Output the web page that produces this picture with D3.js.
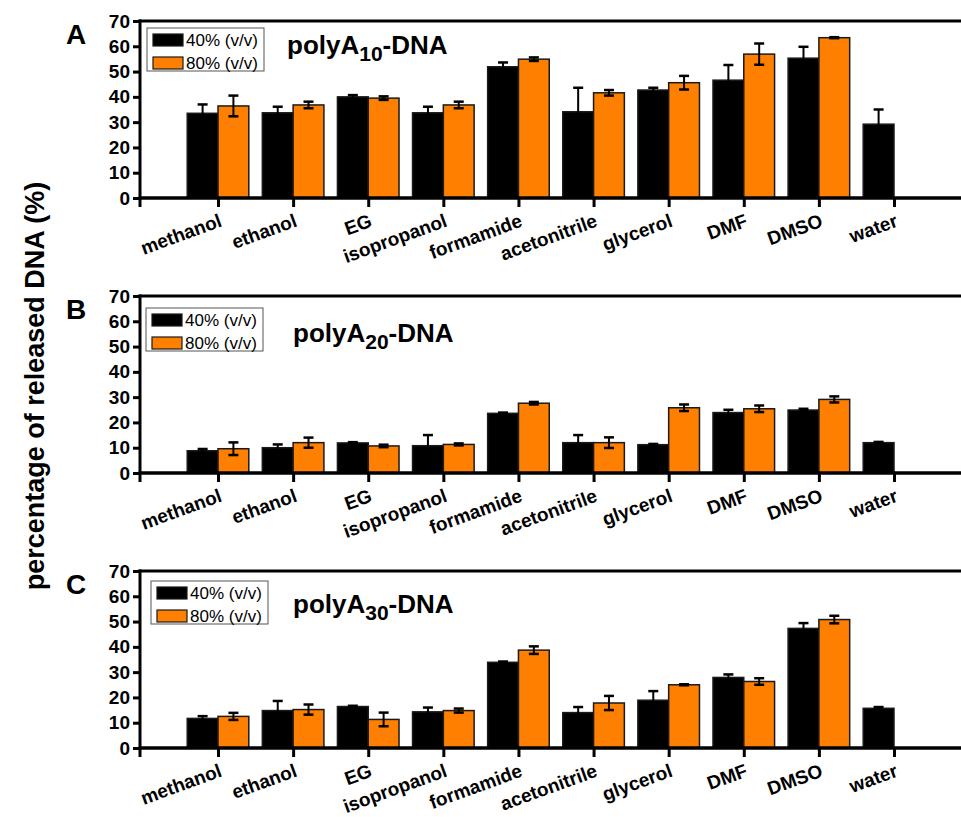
<!DOCTYPE html>
<html><head><meta charset="utf-8">
<script src="https://cdn.jsdelivr.net/npm/d3@7"></script>
<style>html,body{margin:0;padding:0;background:#fff;}svg{display:block;font-family:"Liberation Sans",Arial,sans-serif;}</style>
</head><body>
<svg id="chart" width="961" height="817"></svg>
<script>
const categories = ["methanol","ethanol","EG","isopropanol","formamide","acetonitrile","glycerol","DMF","DMSO","water"];
const seriesNames = ["40% (v/v)","80% (v/v)"];
const yTicks = [0,10,20,30,40,50,60,70];

const A40 = [33.5,33.7,40.0,33.7,51.9,34.1,42.7,46.6,55.3,29.2];
const A40err = [3.5,2.4,0.7,2.4,1.7,9.5,0.9,6.0,4.5,5.8];
const A80 = [36.4,36.8,39.5,36.8,54.9,41.6,45.6,56.9,63.4,null];
const A80err = [4.1,1.3,0.7,1.3,0.7,1.1,2.7,4.2,0.2,null];

const B40 = [8.8,10.0,11.9,10.8,23.6,12.0,11.2,23.9,24.9,12.0];
const B40err = [0.7,1.3,0.3,4.2,0.3,3.0,0.3,1.1,0.5,0.3];
const B80 = [9.6,12.0,10.7,11.3,27.6,12.0,25.8,25.4,29.1,null];
const B80err = [2.5,2.0,0.5,0.4,0.5,2.1,1.3,1.3,1.2,null];

const C40 = [11.7,14.8,16.4,14.3,33.9,14.0,18.9,27.9,47.3,15.7];
const C40err = [0.9,3.8,0.3,1.7,0.3,2.2,3.6,1.2,2.1,0.5];
const C80 = [12.5,15.2,11.3,14.8,38.7,17.8,25.0,26.3,50.8,null];
const C80err = [1.4,2.0,2.7,0.8,1.5,2.8,0.2,1.3,1.5,null];

const panelLetters = ["A","B","C"];
const panelSubs = ["10","20","30"];

const panels = [
  {letter:panelLetters[0], sub:panelSubs[0], s40:A40, e40:A40err, s80:A80, e80:A80err, top:21, titleX:287, titleDy:33, legDy:7, legX:147},
  {letter:panelLetters[1], sub:panelSubs[1], s40:B40, e40:B40err, s80:B80, e80:B80err, top:296, titleX:293, titleDy:46, legDy:12, legX:146},
  {letter:panelLetters[2], sub:panelSubs[2], s40:C40, e40:C40err, s80:C80, e80:C80err, top:571, titleX:293, titleDy:42, legDy:10, legX:151}
];

const colors = ["#000000","#ff8000"];
const svg = d3.select("#chart");
const axisX = 140, plotH = 177, rightEdge = 961;
const FONT = "'Liberation Sans',Arial,sans-serif";
const labelAngle = -20;

const x = d3.scaleLinear().domain([0, categories.length + 1]).range([142.9, 142.9 + 75.11*(categories.length+1)]);
const step = x(1) - x(0);
const xSub = d3.scaleBand().domain(seriesNames).range([-0.41*step, 0.41*step]).padding(0);

panels.forEach(p => {
  const g = svg.append("g");
  const y = d3.scaleLinear().domain([0,70]).range([p.top + plotH, p.top]);
  const zeroY = y(0);

  const rows = categories.map((c,i)=>({i, vals:[
    {s:seriesNames[0], v:p.s40[i], e:p.e40[i], c:colors[0]},
    {s:seriesNames[1], v:p.s80[i], e:p.e80[i], c:colors[1]}
  ].filter(d=>d.v!=null)}));

  const grp = g.selectAll(".grp").data(rows).enter().append("g")
    .attr("transform", d=>`translate(${x(d.i+1)},0)`);
  grp.selectAll("rect").data(d=>d.vals).enter().append("rect")
    .attr("x", d=>xSub(d.s)).attr("width", xSub.bandwidth())
    .attr("y", d=>y(d.v)).attr("height", d=>zeroY - y(d.v))
    .attr("fill", d=>d.c).attr("stroke","#1a1a1a").attr("stroke-width",1.5);

  const eb = grp.selectAll(".eb").data(d=>d.vals).enter().append("g")
    .attr("transform", d=>`translate(${xSub(d.s)+xSub.bandwidth()/2},0)`);
  eb.append("line").attr("x1",0).attr("x2",0)
    .attr("y1", d=>y(d.v-d.e)).attr("y2", d=>y(d.v+d.e))
    .attr("stroke","#000").attr("stroke-width",2);
  [1,-1].forEach(sgn=>{
    eb.append("line").attr("x1",-5).attr("x2",5)
      .attr("y1", d=>y(d.v+sgn*d.e)).attr("y2", d=>y(d.v+sgn*d.e))
      .attr("stroke","#000").attr("stroke-width",2.5);
  });

  const yAxis = d3.axisLeft(y).tickValues(yTicks).tickSize(7).tickPadding(3).tickFormat(d3.format("d"));
  const ya = g.append("g").attr("transform",`translate(${axisX},0)`).call(yAxis);
  ya.select(".domain").remove();
  ya.selectAll(".tick line").attr("stroke","#000").attr("stroke-width",3);
  ya.selectAll(".tick text").attr("font-size",19).attr("font-weight","bold").attr("fill","#000")
    .attr("font-family",FONT);

  g.append("line").attr("x1",axisX).attr("x2",axisX).attr("y1",p.top-1.5).attr("y2",zeroY+9)
    .attr("stroke","#000").attr("stroke-width",3);
  g.append("line").attr("x1",axisX-1.5).attr("x2",rightEdge).attr("y1",p.top).attr("y2",p.top)
    .attr("stroke","#000").attr("stroke-width",3);
  g.append("line").attr("x1",axisX-1.5).attr("x2",rightEdge).attr("y1",zeroY).attr("y2",zeroY)
    .attr("stroke","#000").attr("stroke-width",3.5);

  const xa = d3.axisBottom(x).tickValues(d3.range(1, categories.length+1)).tickSize(9).tickFormat("");
  const xg = g.append("g").attr("transform",`translate(0,${zeroY})`).call(xa);
  xg.select(".domain").remove();
  xg.selectAll(".tick line").attr("stroke","#000").attr("stroke-width",3);

  g.selectAll(".xlab").data(categories).enter().append("text")
    .attr("transform",(d,i)=>`translate(${x(i+1)+5},${zeroY+28}) rotate(${labelAngle})`)
    .attr("text-anchor","end")
    .attr("font-size",19).attr("font-weight","bold").attr("font-family",FONT).attr("fill","#000")
    .text(d=>d);

  g.append("text").attr("x",66).attr("y",p.top+23).attr("font-size",28).attr("font-weight","bold").text(p.letter);

  const t = g.append("text").attr("x",p.titleX).attr("y",p.top+p.titleDy).attr("font-size",26).attr("font-weight","bold");
  t.append("tspan").text("polyA");
  t.append("tspan").attr("font-size",21).attr("dy",7).text(p.sub);
  t.append("tspan").attr("dy",-7).text("-DNA");

  const ly = p.top + p.legDy;
  g.append("rect").attr("x",p.legX).attr("y",ly).attr("width",117).attr("height",43)
    .attr("fill","#fff").attr("stroke","#555").attr("stroke-width",1);
  seriesNames.forEach((s,k)=>{
    g.append("rect").attr("x",p.legX+6).attr("y",ly+6+k*23).attr("width",30).attr("height",12)
      .attr("fill",colors[k]).attr("stroke","#1a1a1a").attr("stroke-width",1.2);
    g.append("text").attr("x",p.legX+39).attr("y",ly+18+k*23).attr("font-size",17).text(s);
  });
});

svg.append("text").attr("transform","translate(44,386) rotate(-90)").attr("text-anchor","middle")
  .attr("font-size",27).attr("font-weight","bold").text("percentage of released DNA (%)");
</script>
</body></html>
